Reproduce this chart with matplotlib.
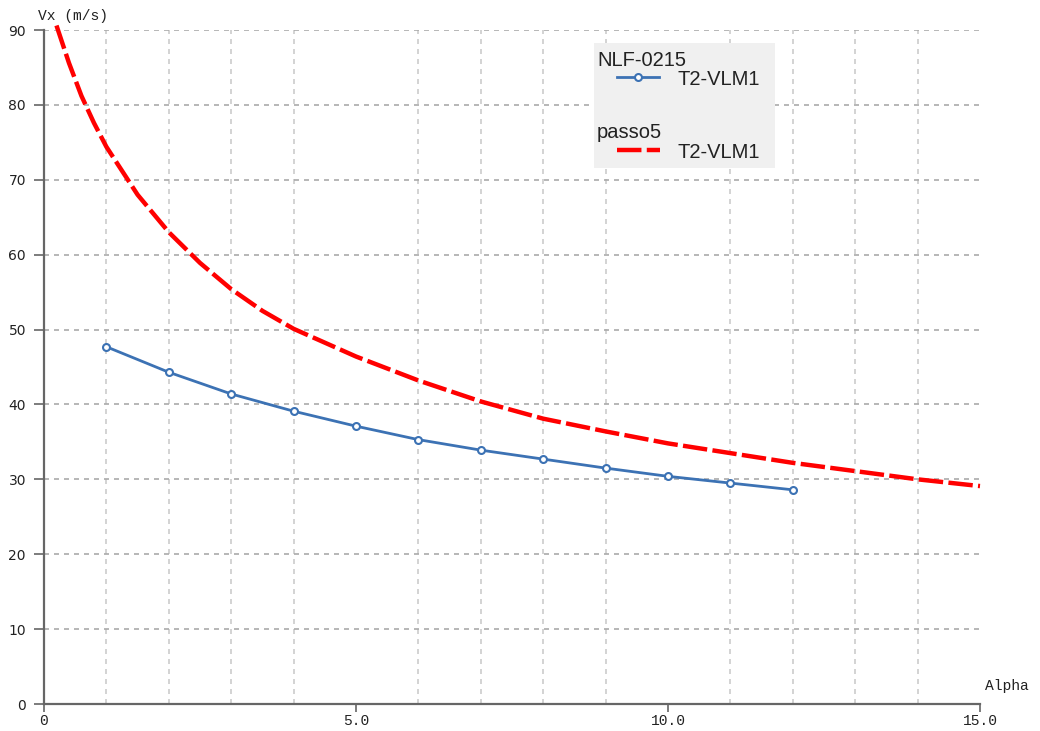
import numpy as np
import matplotlib.pyplot as plt
from matplotlib.lines import Line2D
from matplotlib.patches import Rectangle

# data
alpha_nlf = [1, 2, 3, 4, 5, 6, 7, 8, 9, 10, 11, 12]
vx_nlf = [47.7, 44.3, 41.4, 39.1, 37.1, 35.3, 33.9, 32.7, 31.5, 30.4, 29.5, 28.6]

alpha_passo5 = [0.2, 0.4, 0.6, 0.8, 1, 1.5, 2, 2.5, 3, 3.5, 4, 5, 6, 7, 8, 9,
                10, 11, 12, 13, 14, 15]
vx_passo5 = [90.6, 85.6, 81.2, 77.6, 74.4, 68.0, 63.0, 58.9, 55.4, 52.5, 50.1,
             46.4, 43.2, 40.4, 38.1, 36.4, 34.8, 33.5, 32.2, 31.1, 30.0, 29.1]

series_names = ["NLF-0215", "passo5"]
line_label = "T2-VLM1"

blue = "#3c72b4"
red = "#ff0000"

fig = plt.figure(figsize=(10.4, 7.31), dpi=100)
ax = fig.add_axes([44 / 1040, 1 - 704 / 731, 936 / 1040, 674 / 731])

ax.plot(alpha_passo5, vx_passo5, color=red, lw=3.2, dashes=(5.5, 1.2),
        clip_on=False, zorder=3)
ax.plot(alpha_nlf, vx_nlf, color=blue, lw=2, marker="o", markersize=5,
        markerfacecolor="white", markeredgecolor=blue, markeredgewidth=1.5,
        zorder=4)

ax.set_xlim(0, 15)
ax.set_ylim(0, 90)
ax.set_xticks([0, 5, 10, 15])
ax.set_xticklabels(["0", "5.0", "10.0", "15.0"], family="Liberation Mono",
                   fontsize=10.5)
ax.set_xticks(np.arange(0, 16, 1), minor=True)
ax.set_yticks(np.arange(0, 91, 10))
ax.set_yticklabels([str(v) for v in range(0, 91, 10)], family="DejaVu Sans",
                   fontsize=10, color="#222222")
ax.tick_params(axis="x", which="major", length=6, width=1.2, color="#666666",
               pad=1, labelcolor="#222222")
ax.tick_params(axis="x", which="minor", length=0)
ax.tick_params(axis="y", length=7, width=1.2, color="#666666", pad=6)

ax.grid(axis="x", which="minor", color="#cccccc", lw=1.2, dashes=(3, 3))
ax.grid(axis="y", which="major", color="#aaaaaa", lw=1.2, dashes=(3, 3))
ax.set_axisbelow(True)

for side in ["top", "right"]:
    ax.spines[side].set_visible(False)
for side in ["left", "bottom"]:
    ax.spines[side].set_color("#666666")
    ax.spines[side].set_linewidth(1.6)

fig.text(38 / 1040, 1 - 16 / 731, "Vx (m/s)", family="Liberation Mono",
         fontsize=10.5, va="center", ha="left", color="#222222")
fig.text(985 / 1040, 1 - 686 / 731, "Alpha", family="Liberation Mono",
         fontsize=10.5, va="center", ha="left", color="#222222")

# legend box drawn by hand
W, H = 1040, 731
fig.add_artist(Rectangle((594 / W, 1 - 168 / H), 181 / W, 125 / H,
                         transform=fig.transFigure, facecolor="#f0f0f0",
                         edgecolor="none", zorder=5))
fig.text(597 / W, 1 - 66 / H, series_names[0], family="Liberation Sans",
         fontsize=14.5, va="baseline", color="#222222", zorder=6)
fig.add_artist(Line2D([617 / W, 659 / W], [1 - 77 / H, 1 - 77 / H],
                      transform=fig.transFigure, color=blue, lw=2, zorder=6))
fig.add_artist(Line2D([638 / W], [1 - 77 / H], transform=fig.transFigure,
                      marker="o", markersize=5, markerfacecolor="white",
                      markeredgecolor=blue, markeredgewidth=1.5, zorder=7))
fig.text(677 / W, 1 - 85 / H, line_label, family="Liberation Sans",
         fontsize=14.5, va="baseline", color="#222222", zorder=6)
fig.text(597 / W, 1 - 138 / H, series_names[1], family="Liberation Sans",
         fontsize=14.5, va="baseline", color="#222222", zorder=6)
fig.add_artist(Line2D([617 / W, 660 / W], [1 - 150 / H, 1 - 150 / H],
                      transform=fig.transFigure, color=red, lw=3.2,
                      dashes=(5.5, 1.2), zorder=6))
fig.text(677 / W, 1 - 158 / H, line_label, family="Liberation Sans",
         fontsize=14.5, va="baseline", color="#222222", zorder=6)

fig.savefig("out.png", dpi=100)
